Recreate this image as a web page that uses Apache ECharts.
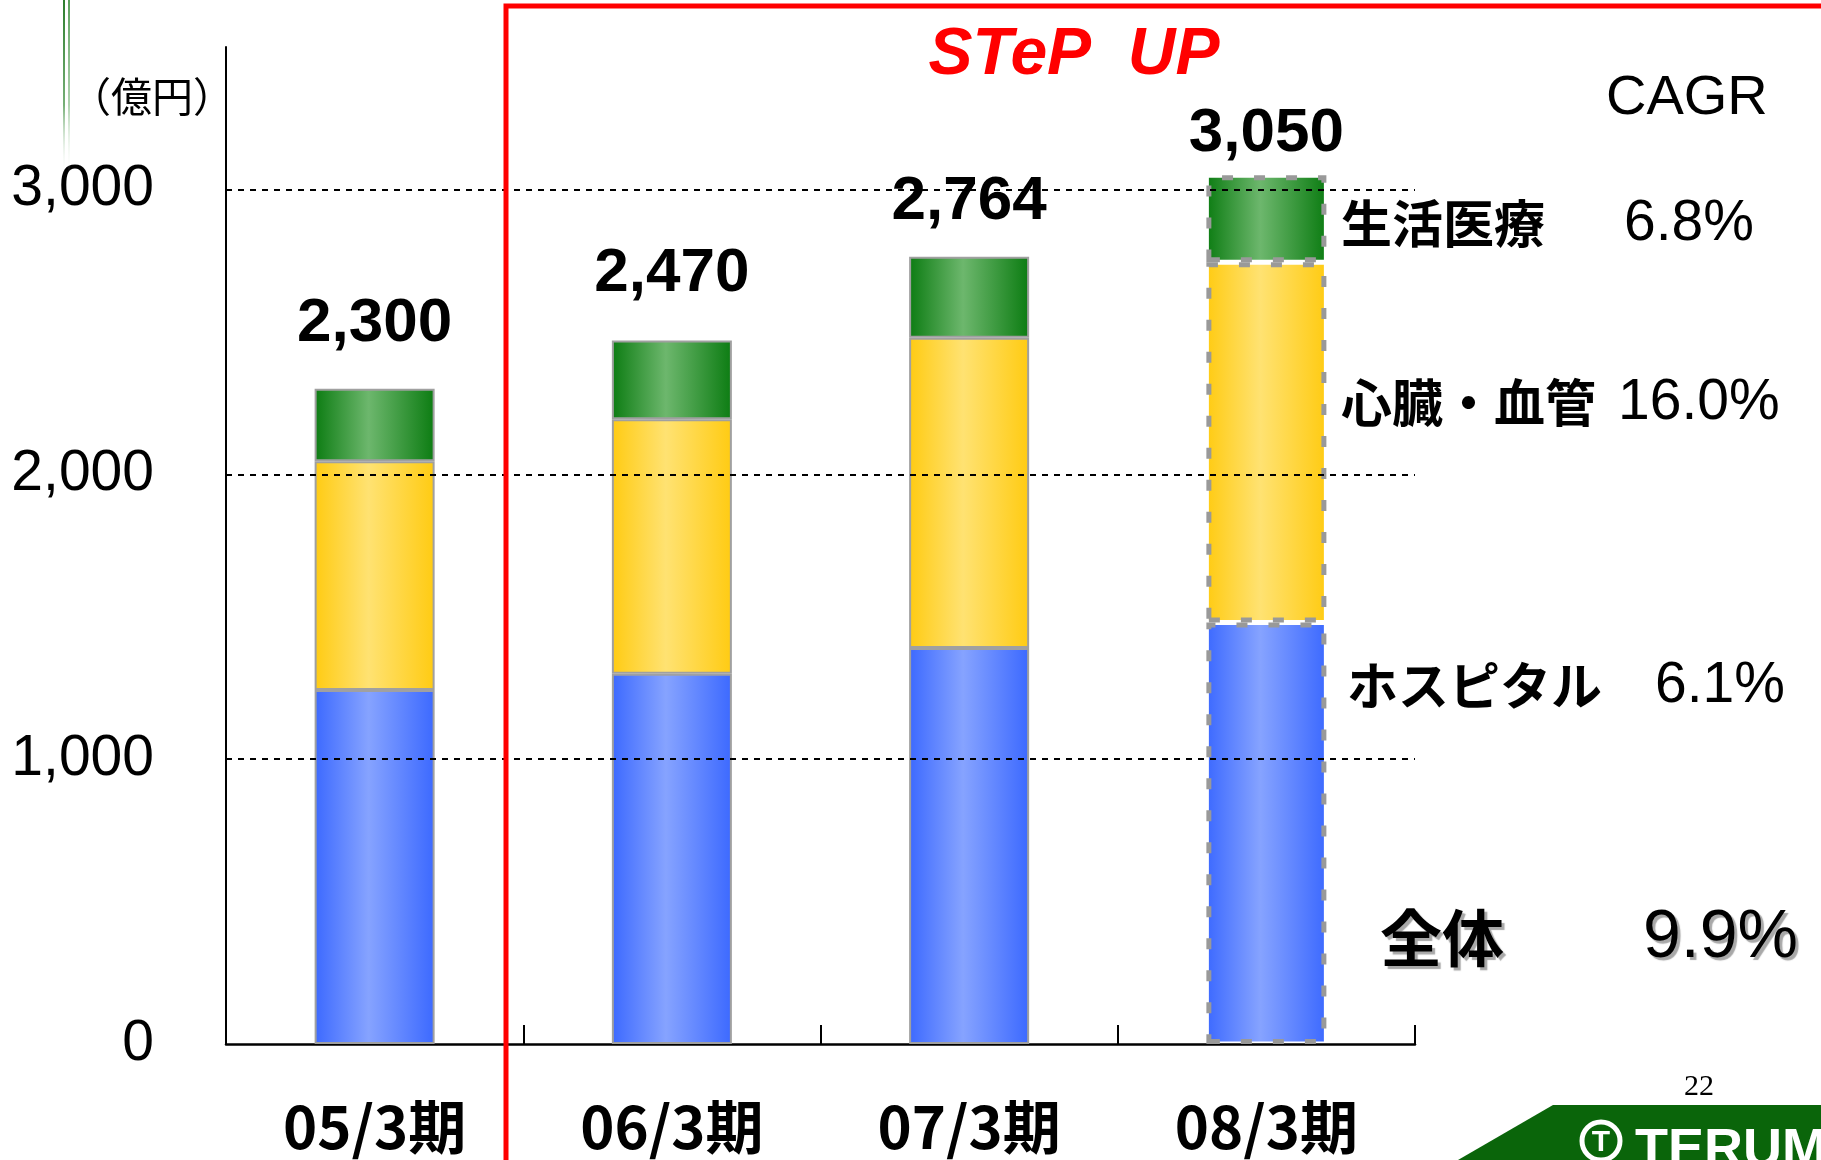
<!DOCTYPE html>
<html><head><meta charset="utf-8">
<script src="https://cdn.jsdelivr.net/npm/echarts@6/dist/echarts.min.js"></script>
<style>html,body{margin:0;padding:0;background:#fff;} #c{width:1821px;height:1160px;}</style>
</head><body><div id="c"></div>
<script>
// ---- data ----
const categories = ['05/3期', '06/3期', '07/3期', '08/3期'];
const hospital = [1243, 1300, 1390, 1480];
const cardio = [803, 893, 1089, 1264];
const life = [254, 277, 285, 306];
const totals = [2300, 2470, 2764, 3050];
const yTicks = [0, 1000, 2000, 3000];
const unitLabel = '（億円）';
const bandTitle = 'STeP  UP';
const cagrTitle = 'CAGR';
const segmentNames = ['生活医療', '心臓・血管', 'ホスピタル'];
const segmentCagr = ['6.8%', '16.0%', '6.1%'];
const overallName = '全体';
const overallCagr = '9.9%';
const pageNo = '22';
const logoText = 'TERUMO';

// ---- styling ----
const LAT = "'Liberation Sans', Arial, sans-serif";
const CJK = "'Noto Sans CJK JP', 'Noto Sans', sans-serif";
const totalGap = [34, 35, 24, 10];
const lastIdx = categories.length - 1;

function grad(edge, mid) {
  return new echarts.graphic.LinearGradient(0, 0, 1, 0, [
    { offset: 0, color: edge }, { offset: 0.45, color: mid }, { offset: 1, color: edge }
  ]);
}
function items(vals, extra) {
  return vals.map((v, i) => {
    const it = { value: v };
    if (i === lastIdx) it.itemStyle = { borderType: [11, 21], borderColor: '#999', borderWidth: 5 };
    if (extra) Object.assign(it, extra(i));
    return it;
  });
}
const baseBar = {
  type: 'bar', stack: 'total', barWidth: 120, z: 3,
  itemStyle: { borderColor: '#a0a0a0', borderWidth: 2 }
};

const chart = echarts.init(document.getElementById('c'), null, { renderer: 'canvas' });

const tx = (text, x, y, size, opts) => Object.assign({
  type: 'text', x: x, y: y, z: 50,
  style: Object.assign({ text: text, fontSize: size, fontFamily: LAT, fill: '#000',
    textAlign: 'left', textVerticalAlign: 'middle' }, (opts && opts.style) || {})
}, opts && opts.el ? opts.el : {});

const segY = [224, 403, 686];
const segX = [1341, 1341, 1347];
const cagrX = [1624, 1618, 1655];
const shadow = { textShadowColor: '#a8a8a8', textShadowOffsetX: 3, textShadowOffsetY: 3, textShadowBlur: 1 };

const graphics = [
  // green decorative lines
  { type: 'rect', shape: { x: 63, y: 0, width: 2, height: 175 }, z: 1,
    style: { fill: new echarts.graphic.LinearGradient(0, 0, 0, 1, [{ offset: 0, color: '#2d7d2d' }, { offset: 0.6, color: 'rgba(60,140,60,0.7)' }, { offset: 1, color: 'rgba(255,255,255,0)' }]) } },
  { type: 'rect', shape: { x: 68, y: 0, width: 2, height: 175 }, z: 1,
    style: { fill: new echarts.graphic.LinearGradient(0, 0, 0, 1, [{ offset: 0, color: '#5aa05a' }, { offset: 0.6, color: 'rgba(120,180,120,0.6)' }, { offset: 1, color: 'rgba(255,255,255,0)' }]) } },
  // red frame
  { type: 'rect', shape: { x: 506, y: 6, width: 1500, height: 1400 }, z: 60,
    style: { fill: 'none', stroke: '#ff0000', lineWidth: 5 } },
  tx(bandTitle, 1074, 56, 66, { style: { fill: '#ff0000', fontWeight: 'bold', fontStyle: 'italic', textAlign: 'center' } }),
  tx(unitLabel, 70, 96, 41, { style: { fontFamily: CJK } }),
  tx(cagrTitle, 1606, 99, 56, {}),
  tx(overallName, 1380, 938, 62, { style: Object.assign({ fontFamily: CJK, fontWeight: 'bold' }, shadow) }),
  tx(overallCagr, 1643, 938, 68, { style: shadow }),
  tx(pageNo, 1699, 1087, 30, { style: { fontFamily: "'Liberation Serif', serif", textAlign: 'center' } }),
  // logo band
  { type: 'polygon', z: 40, shape: { points: [[1458, 1160], [1553, 1105], [1821, 1105], [1821, 1160]] }, style: { fill: '#0a650a' } },
  { type: 'circle', z: 41, shape: { cx: 1601, cy: 1141, r: 19 }, style: { fill: 'none', stroke: '#fff', lineWidth: 5 } },
  tx('T', 1601, 1143, 30, { style: { fill: '#fff', fontWeight: 'bold', textAlign: 'center' } }),
  tx(logoText, 1635, 1124, 54, { style: { fill: '#fff', fontWeight: 'bold', textVerticalAlign: 'top' } })
];
segmentNames.forEach((n, i) => {
  graphics.push(tx(n, segX[i], segY[i], 51, { style: { fontFamily: CJK, fontWeight: 'bold' } }));
  graphics.push(tx(segmentCagr[i], cagrX[i], segY[i], 57, {}));
});

chart.setOption({
  animation: false,
  backgroundColor: '#fff',
  grid: { left: 226, right: 406, top: 47, bottom: 116, containLabel: false },
  xAxis: {
    type: 'category', data: categories,
    axisLine: { show: true, lineStyle: { color: '#000', width: 2.5 } },
    axisTick: { show: true, inside: true, length: 19, lineStyle: { color: '#000', width: 2 } },
    axisLabel: { color: '#000', fontSize: 58, fontWeight: 'bold', fontFamily: CJK, margin: 52, lineHeight: 62 }
  },
  yAxis: {
    type: 'value', min: 0, max: 3500, interval: 1000,
    axisLine: { show: true, lineStyle: { color: '#000', width: 2 } },
    axisTick: { show: false },
    splitLine: { show: false },
    axisLabel: {
      color: '#000', fontSize: 57, fontFamily: LAT, margin: 72,
      formatter: v => yTicks.indexOf(v) >= 0 ? v.toLocaleString('en-US') : ''
    }
  },
  series: [
    {
      type: 'line', z: 1, data: categories.map(() => null), silent: true,
      markLine: {
        silent: true, symbol: 'none', label: { show: false },
        lineStyle: { type: [6, 6], color: '#000', width: 2 },
        data: yTicks.filter(v => v > 0).map(v => ({ yAxis: v }))
      }
    },
    Object.assign({}, baseBar, { name: segmentNames[2], data: items(hospital), color: grad('#3c69ff', '#86a3ff') }),
    Object.assign({}, baseBar, { name: segmentNames[1], data: items(cardio), color: grad('#ffcb12', '#ffe272') }),
    Object.assign({}, baseBar, {
      name: segmentNames[0], color: grad('#0c7c12', '#6db76d'),
      data: items(life, i => ({ label: { distance: totalGap[i] } })),
      label: {
        show: true, position: 'top', color: '#000', fontSize: 62, fontWeight: 'bold', fontFamily: LAT,
        formatter: p => totals[p.dataIndex].toLocaleString('en-US')
      }
    })
  ],
  graphic: graphics
});
</script></body></html>
